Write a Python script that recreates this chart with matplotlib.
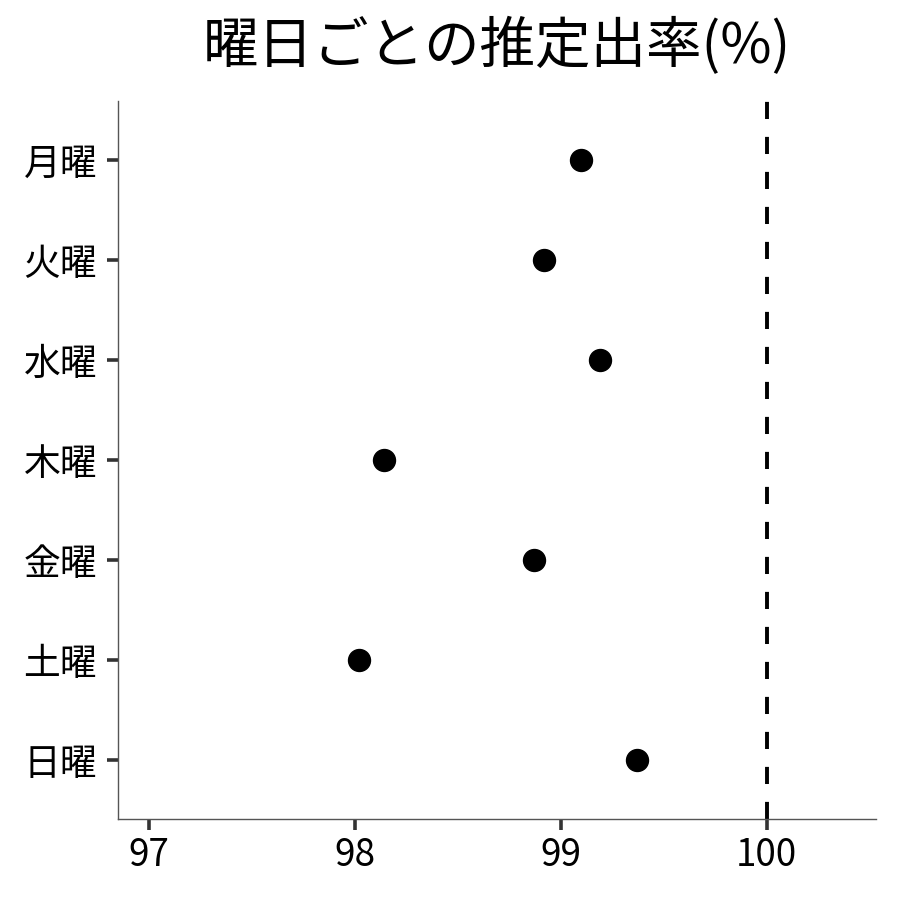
import matplotlib
matplotlib.use("Agg")
import matplotlib.pyplot as plt

plt.rcParams["font.family"] = ["Noto Sans CJK JP", "DejaVu Sans"]

# data
days = ["月曜", "火曜", "水曜", "木曜", "金曜", "土曜", "日曜"]
rates = [99.10, 98.92, 99.19, 98.14, 98.87, 98.02, 99.37]
xticks = [97, 98, 99, 100]

fig = plt.figure(figsize=(9, 9), dpi=100)
ax = fig.add_axes([0.131, 0.09, 0.842, 0.798])

ypos = list(range(len(days)))[::-1]
ax.scatter(rates, ypos, s=250, color="black", zorder=3)
ax.axvline(100, color="black", lw=2.8, dashes=(4.4, 4.6))

ax.set_xlim(96.85, 100.53)
ax.set_ylim(-0.59, 6.59)
ax.set_yticks(ypos)
ax.set_yticklabels(days)
ax.set_xticks(xticks)
ax.set_xticklabels([str(x) for x in xticks])

for side in ["top", "right"]:
    ax.spines[side].set_visible(False)
for side in ["left", "bottom"]:
    ax.spines[side].set_color("#555555")
    ax.spines[side].set_linewidth(1.0)

ax.tick_params(axis="both", length=8, width=2.6, color="#333333",
               labelsize=26.5, labelcolor="black")
ax.tick_params(axis="y", pad=7)
ax.tick_params(axis="x", pad=4)

ax.set_title("曜日ごとの推定出率(%)", fontsize=40, pad=27)

fig.savefig("out.png", dpi=100)
